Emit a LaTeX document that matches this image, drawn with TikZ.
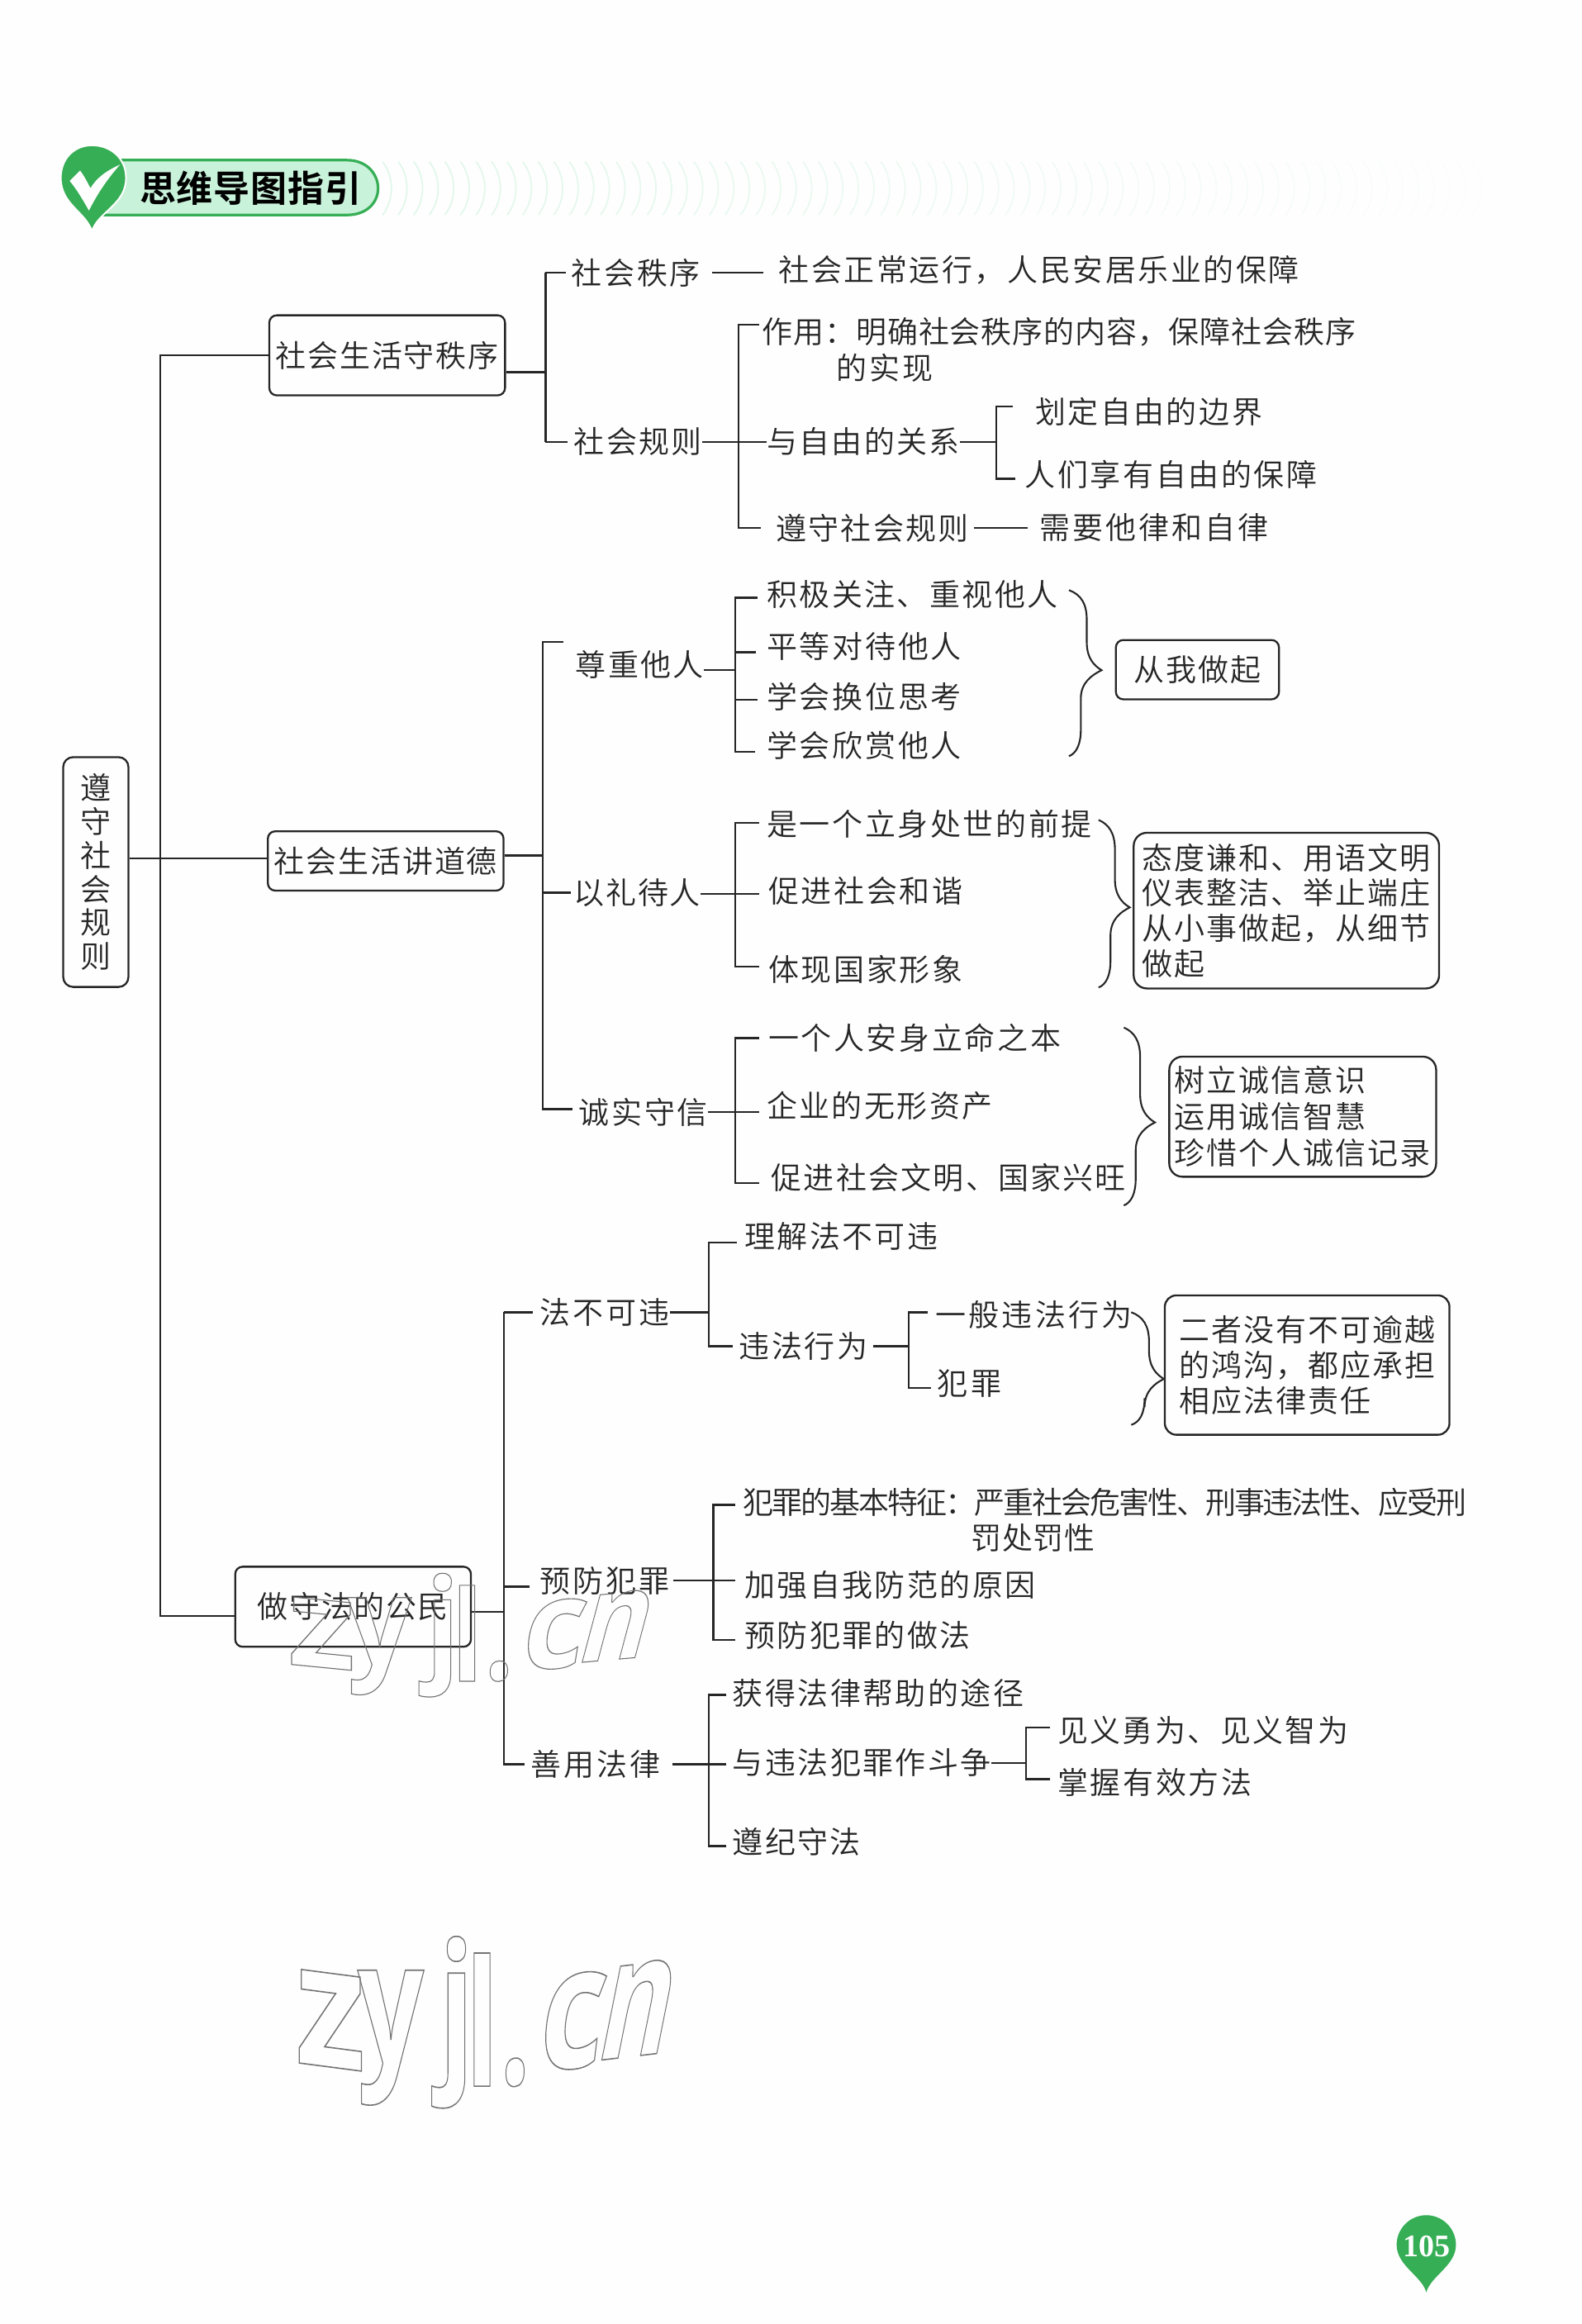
\documentclass[tikz,border=0pt]{standalone}
\usepackage{fontspec}
\newfontfamily\cnfont{Noto Sans CJK SC DemiLight}
\newfontfamily\cnbold{Noto Sans CJK SC Bold}
\newfontfamily\serifbold{Liberation Serif Bold}
\newfontfamily\wmfont{Open Sans Bold}
\def\un{0.8974}
\def\fs{18.5}
\definecolor{ink}{HTML}{262626}
\definecolor{grn}{HTML}{36AE55}
\definecolor{mint}{HTML}{C9F2DA}
\definecolor{paper}{HTML}{FEFEFE}
\tikzset{
  ln/.style={draw=ink,line width=1.25pt},
  brc/.style={draw=ink,line width=1.05pt},
  lab/.style={anchor=west,inner sep=0pt,text=ink,font=\cnfont\fontsize{\fs}{20}\selectfont},
  rbox/.style={draw=ink,line width=1.15pt,rounded corners=4.5pt,fill=paper,inner sep=0pt,align=left,text=ink,anchor=north west,font=\cnfont\fontsize{\fs}{20}\selectfont},
  wm/.style={inner sep=0pt,anchor=base west,text=black!55,transform shape,font=\wmfont\fontsize{104}{104}\selectfont},
  lines/.style={rounded corners=8pt,font={\cnfont\fontsize{\fs}{#1}\selectfont\addfontfeature{LetterSpace=5.5}}}
}
% name, x-left, x-right, y, number of characters, text
\newcommand\lab[6]{\pgfmathsetmacro\lsv{100*(((#3-#2)*\un-\fs*.94)/(#5-1)-\fs)/\fs}%
  \edef\lsset{\noexpand\addfontfeature{LetterSpace=\lsv}}%
  \node[lab] (#1) at (#2,#4) {\lsset #6};}
% name, x1, y1, x2, y2, extra options, text
\newcommand\bxn[7]{\pgfmathsetmacro\bw{(#4-#2)*\un}\pgfmathsetmacro\bh{(#5-#3)*\un}%
  \node[rbox,minimum width=\bw pt,minimum height=\bh pt,#6] (#1) at (#2,#3) {#7};}
% tick from vertical j to west side of node, gap in pt
\newcommand\tk[3]{\draw[ln] (#1 |- #2.west) -- ([xshift=-#3pt]#2.west);}
% brace: x-end, x-upper stem, x-tip, x-lower stem, y-top, y-tip, y-bottom
\newcommand\brc[7]{\draw[brc] (#1,#5) .. controls ({#2-4},{#5+3}) and (#2,{#5+9}) .. (#2,{#5+20})
  -- (#2,{#6-19}) .. controls (#2,{#6-8}) and ({#3-5},{#6-3}) .. (#3,#6)
  .. controls ({#3-6},{#6+3}) and (#4,{#6+8}) .. (#4,{#6+19})
  -- (#4,{#7-18}) .. controls (#4,{#7-8}) and ({#4-3},{#7-2}) .. (#1,#7);}
% one outlined watermark letter
\newcommand\wl[5]{\node[wm,#4] (#1) at (#2,#3) {\special{pdf:code 1 Tr 0.8 w}#5\special{pdf:code 0 Tr}};}
% whole watermark, drawn in the coordinates of the lower one
\newcommand\zyw[1]{%
  \wl{#1z}{199}{1391}{yslant=-.13,xscale=.84}{z}
  \wl{#1y}{241}{1392}{xscale=.68}{y}
  \wl{#1j}{296}{1394}{xscale=.66}{j}
  \wl{#1l}{314}{1407}{xscale=.62,yscale=1.02}{l}
  \wl{#1d}{337}{1407}{yslant=.12,xscale=.62}{.}
  \wl{#1c}{361}{1397}{xslant=.12,yslant=.1,xscale=.72}{c}
  \wl{#1n}{400}{1390}{xslant=.2,yslant=.12,xscale=.62}{n}
}
\begin{document}
\begin{tikzpicture}[x=0.8974pt,y=-0.8974pt]
\useasboundingbox (0,0) rectangle (1067,1567.4);
\fill[paper] (0,0) rectangle (1067,1567.4);

% header stripes
\foreach \i in {0,...,70}{
  \pgfmathsetmacro\op{0.55*(1-\i/75)}
  \pgfmathsetmacro\xa{258+10.5*\i}
  \draw[mint,opacity=\op,line width=0.9pt] (\xa,109) .. controls ({\xa+8},119) and ({\xa+8},135) .. (\xa,145);
}
% header banner
\path[fill=mint,draw=grn,line width=1.6pt] (78,108) -- (234,108)
  .. controls (248,108) and (255,118) .. (255,127)
  .. controls (255,136) and (248,145) .. (234,145) -- (66,145)
  .. controls (80,132) and (86,120) .. (78,108) -- cycle;
\path[fill=grn,draw=paper,line width=1pt] (62,156) .. controls (58,143) and (41,138) .. (41,120)
  .. controls (41,107) and (50,98) .. (62,98)
  .. controls (75,98) and (85,107) .. (85,120)
  .. controls (85,138) and (66,143) .. (62,156) -- cycle;
\fill[paper] (47,122) -- (54,115) .. controls (57,119) and (59,123) .. (61,127)
  .. controls (65,120) and (72,115) .. (81,111)
  .. controls (73,120) and (66,130) .. (60,142)
  .. controls (56,135) and (52,128) .. (47,122) -- cycle;
\node[inner sep=0pt,anchor=west,text=black,font=\cnbold\fontsize{22}{24}\selectfont] (head) at (94,127) {\addfontfeature{LetterSpace=2}思维导图指引};

% root and level-one boxes
\bxn{root}{42}{510}{86}{665}{align=center,rounded corners=6pt,font={\cnfont\fontsize{\fs}{20.4}\selectfont}}{遵\\守\\社\\会\\规\\则}
\bxn{b1}{181}{212}{340}{266}{}{\addfontfeature{LetterSpace=5}社会生活守秩序}
\bxn{b2}{180}{560}{339}{600}{}{\addfontfeature{LetterSpace=5}社会生活讲道德}
\bxn{b3}{158}{1056}{317}{1110}{}{\addfontfeature{LetterSpace=5}做守法的公民}

% group 1
\lab{a1}{385}{471}{184}{4}{社会秩序}
\lab{a2}{387}{472}{298}{4}{社会规则}
\lab{a11}{525}{875}{182}{16}{社会正常运行，人民安居乐业的保障}
\lab{a21}{514}{913}{224}{19}{作用：明确社会秩序的内容，保障社会秩序}
\lab{a21b}{564}{628}{248}{3}{的实现}
\lab{a22}{517}{646}{298}{6}{与自由的关系}
\lab{a221}{698}{850}{278}{7}{划定自由的边界}
\lab{a222}{691}{887}{320}{9}{人们享有自由的保障}
\lab{a23}{523}{652}{356}{6}{遵守社会规则}
\lab{a231}{701}{854}{356}{7}{需要他律和自律}

% group 2
\lab{c1}{388}{473}{448}{4}{尊重他人}
\lab{c11}{517}{712}{401}{9}{积极关注、重视他人}
\lab{c12}{517}{647}{436}{6}{平等对待他人}
\lab{c13}{517}{647}{470}{6}{学会换位思考}
\lab{c14}{517}{647}{503}{6}{学会欣赏他人}
\bxn{c1b}{752}{431}{862}{471}{}{\addfontfeature{LetterSpace=5}从我做起}
\lab{c2}{387}{471}{602}{4}{以礼待人}
\lab{c21}{517}{735}{556}{10}{是一个立身处世的前提}
\lab{c22}{518}{648}{601}{6}{促进社会和谐}
\lab{c23}{518}{648}{654}{6}{体现国家形象}
\bxn{c2b}{764}{561}{970}{666}{lines=21.3}{态度谦和、用语文明\\仪表整洁、举止端庄\\从小事做起，从细节\\做起}
\lab{c3}{390}{476}{750}{4}{诚实守信}
\lab{c31}{518}{714}{700}{9}{一个人安身立命之本}
\lab{c32}{517}{668}{746}{7}{企业的无形资产}
\lab{c33}{520}{758}{794}{11}{促进社会文明、国家兴旺}
\bxn{c3b}{788}{712}{968}{793}{lines=22}{树立诚信意识\\运用诚信智慧\\珍惜个人诚信记录}

% group 3
\lab{d1}{364}{450}{885}{4}{法不可违}
\lab{d11}{502}{631}{834}{6}{理解法不可违}
\lab{d12}{498}{584}{908}{4}{违法行为}
\lab{d121}{631}{762}{887}{6}{一般违法行为}
\lab{d122}{632}{674}{933}{2}{犯罪}
\bxn{d1b}{785}{873}{977}{967}{lines=21.5,rounded corners=7pt}{二者没有不可逾越\\的鸿沟，都应承担\\相应法律责任}
\lab{d2}{364}{450}{1066}{4}{预防犯罪}
\lab{d21}{501}{988}{1013}{25}{犯罪的基本特征：严重社会危害性、刑事违法性、应受刑}
\lab{d21b}{655}{737}{1037}{4}{罚处罚性}
\lab{d22}{502}{697}{1069}{9}{加强自我防范的原因}
\lab{d23}{502}{653}{1103}{7}{预防犯罪的做法}
\lab{d3}{358}{444}{1190}{4}{善用法律}
\lab{d31}{494}{689}{1142}{9}{获得法律帮助的途径}
\lab{d32}{494}{667}{1189}{8}{与违法犯罪作斗争}
\lab{d321}{713}{908}{1167}{9}{见义勇为、见义智为}
\lab{d322}{713}{843}{1202}{6}{掌握有效方法}
\lab{d33}{494}{579}{1242}{4}{遵纪守法}

% junctions
\coordinate (J0) at (108,579);
\coordinate (J0b) at (108,1090);
\coordinate (J1) at (368,251);
\coordinate (J2) at (498,298);
\coordinate (J3) at (672,298);
\coordinate (K0) at (366,577);
\coordinate (K1) at (496,452);
\coordinate (K2) at (496,603);
\coordinate (K3) at (496,750);
\coordinate (L0) at (340,1087);
\coordinate (L1) at (478,885);
\coordinate (L2) at (613,908);
\coordinate (L3) at (481,1066);
\coordinate (L4) at (478,1190);
\coordinate (L5) at (692,1189);

% connectors: root
\draw[ln] (root.east |- J0) -- (b2.west |- J0);
\draw[ln] (b1.west) -- (J0 |- b1.west) -- (J0b) -- (b3.west |- J0b);

% connectors: group 1
\draw[ln] (b1.east |- J1) -- (J1);
\draw[ln] (J1 |- a1.west) -- (J1 |- a2.west);
\tk{J1}{a1}{3} \tk{J1}{a2}{4}
\coordinate (a1s) at (515,184);
\draw[ln] ([xshift=7pt]a1.east) -- (a1s);
\draw[ln] (a2.east) -- (J2) -- (a22.west);
\coordinate (J2t) at (512,219);
\coordinate (J2b) at (513,356);
\draw[ln] (J2t) -- (J2 |- J2t) -- (J2 |- J2b) -- (J2b);
\draw[ln] (a22.east) -- (J3);
\coordinate (J3t) at (683,274);
\coordinate (J3b) at (685,323);
\draw[ln] (J3t) -- (J3 |- J3t) -- (J3 |- J3b) -- (J3b);
\draw[ln] ([xshift=3pt]a23.east) -- ([xshift=-7pt]a231.west);

% connectors: group 2
\draw[ln] (b2.east |- K0) -- (K0);
\coordinate (K0t) at (380,433);
\coordinate (K0b) at (386,748);
\draw[ln] (K0t) -- (K0 |- K0t) -- (K0 |- K0b) -- (K0b);
\draw[ln] (K0 |- c2.west) -- ([xshift=-2pt]c2.west);
\draw[ln] (c1.east |- K1) -- (K1);
\coordinate (K1t) at (511,403);
\coordinate (K1a) at (510,440);
\coordinate (K1c) at (511,472);
\coordinate (K1b) at (509,507);
\draw[ln] (K1t) -- (K1 |- K1t) -- (K1 |- K1b) -- (K1b);
\draw[ln] (K1 |- K1a) -- (K1a);
\draw[ln] (K1 |- K1c) -- (K1c);
\coordinate (K2m) at (512,603);
\draw[ln] (c2.east |- K2) -- (K2) -- (K2m);
\coordinate (K2t) at (512,555);
\coordinate (K2b) at (512,652);
\draw[ln] (K2t) -- (K2 |- K2t) -- (K2 |- K2b) -- (K2b);
\coordinate (K3m) at (512,750);
\draw[ln] (c3.east |- K3) -- (K3) -- (K3m);
\coordinate (K3t) at (512,700);
\coordinate (K3b) at (512,798);
\draw[ln] (K3t) -- (K3 |- K3t) -- (K3 |- K3b) -- (K3b);

% connectors: group 3
\draw[ln] (b3.east |- L0) -- (L0);
\coordinate (L0b) at (354,1190);
\draw[ln] (L0 |- d1.west) -- (L0 |- L0b) -- (L0b);
\tk{L0}{d1}{4}
\coordinate (L0m) at (357,1070);
\draw[ln] (L0 |- L0m) -- (L0m);
\draw[ln] (d1.east) -- (L1);
\coordinate (L1t) at (497,838);
\coordinate (L1b) at (494,908);
\draw[ln] (L1t) -- (L1 |- L1t) -- (L1 |- L1b) -- (L1b);
\draw[ln] ([xshift=3pt]d12.east) -- (L2);
\coordinate (L2t) at (626,885);
\coordinate (L2b) at (628,936);
\draw[ln] (L2t) -- (L2 |- L2t) -- (L2 |- L2b) -- (L2b);
\coordinate (L3m) at (496,1066);
\draw[ln] ([xshift=2pt]d2.east) -- (L3) -- (L3m);
\coordinate (L3t) at (496,1015);
\coordinate (L3b) at (496,1106);
\draw[ln] (L3t) -- (L3 |- L3t) -- (L3 |- L3b) -- (L3b);
\coordinate (L4m) at (490,1190);
\draw[ln] ([xshift=7pt]d3.east) -- (L4) -- (L4m);
\coordinate (L4t) at (490,1143);
\coordinate (L4b) at (490,1245);
\draw[ln] (L4t) -- (L4 |- L4t) -- (L4 |- L4b) -- (L4b);
\draw[ln] (d32.east) -- (L5);
\coordinate (L5t) at (708,1165);
\coordinate (L5b) at (708,1200);
\draw[ln] (L5t) -- (L5 |- L5t) -- (L5 |- L5b) -- (L5b);

% braces
\brc{721}{733}{743}{729}{398}{452}{510}
\brc{741}{752}{762}{749}{553}{612}{666}
\brc{758}{769}{779}{766}{693}{757}{813}
\brc{763}{775}{785}{772}{885}{930}{961}

% page number
\path[fill=grn] (962,1546) .. controls (959,1535) and (942,1528) .. (942,1514)
  .. controls (942,1503) and (951,1494) .. (962,1494)
  .. controls (973,1494) and (982,1503) .. (982,1514)
  .. controls (982,1528) and (965,1535) .. (962,1546) -- cycle;
\node[inner sep=0pt,text=white,font=\serifbold\fontsize{19}{20}\selectfont] (pg) at (962,1515) {105};

% watermarks
\zyw{w}
\begin{scope}[shift={(195,1064)},xscale=.96,yscale=.72,shift={(-200,-1310)}]
\zyw{v}
\end{scope}
\end{tikzpicture}
\end{document}
